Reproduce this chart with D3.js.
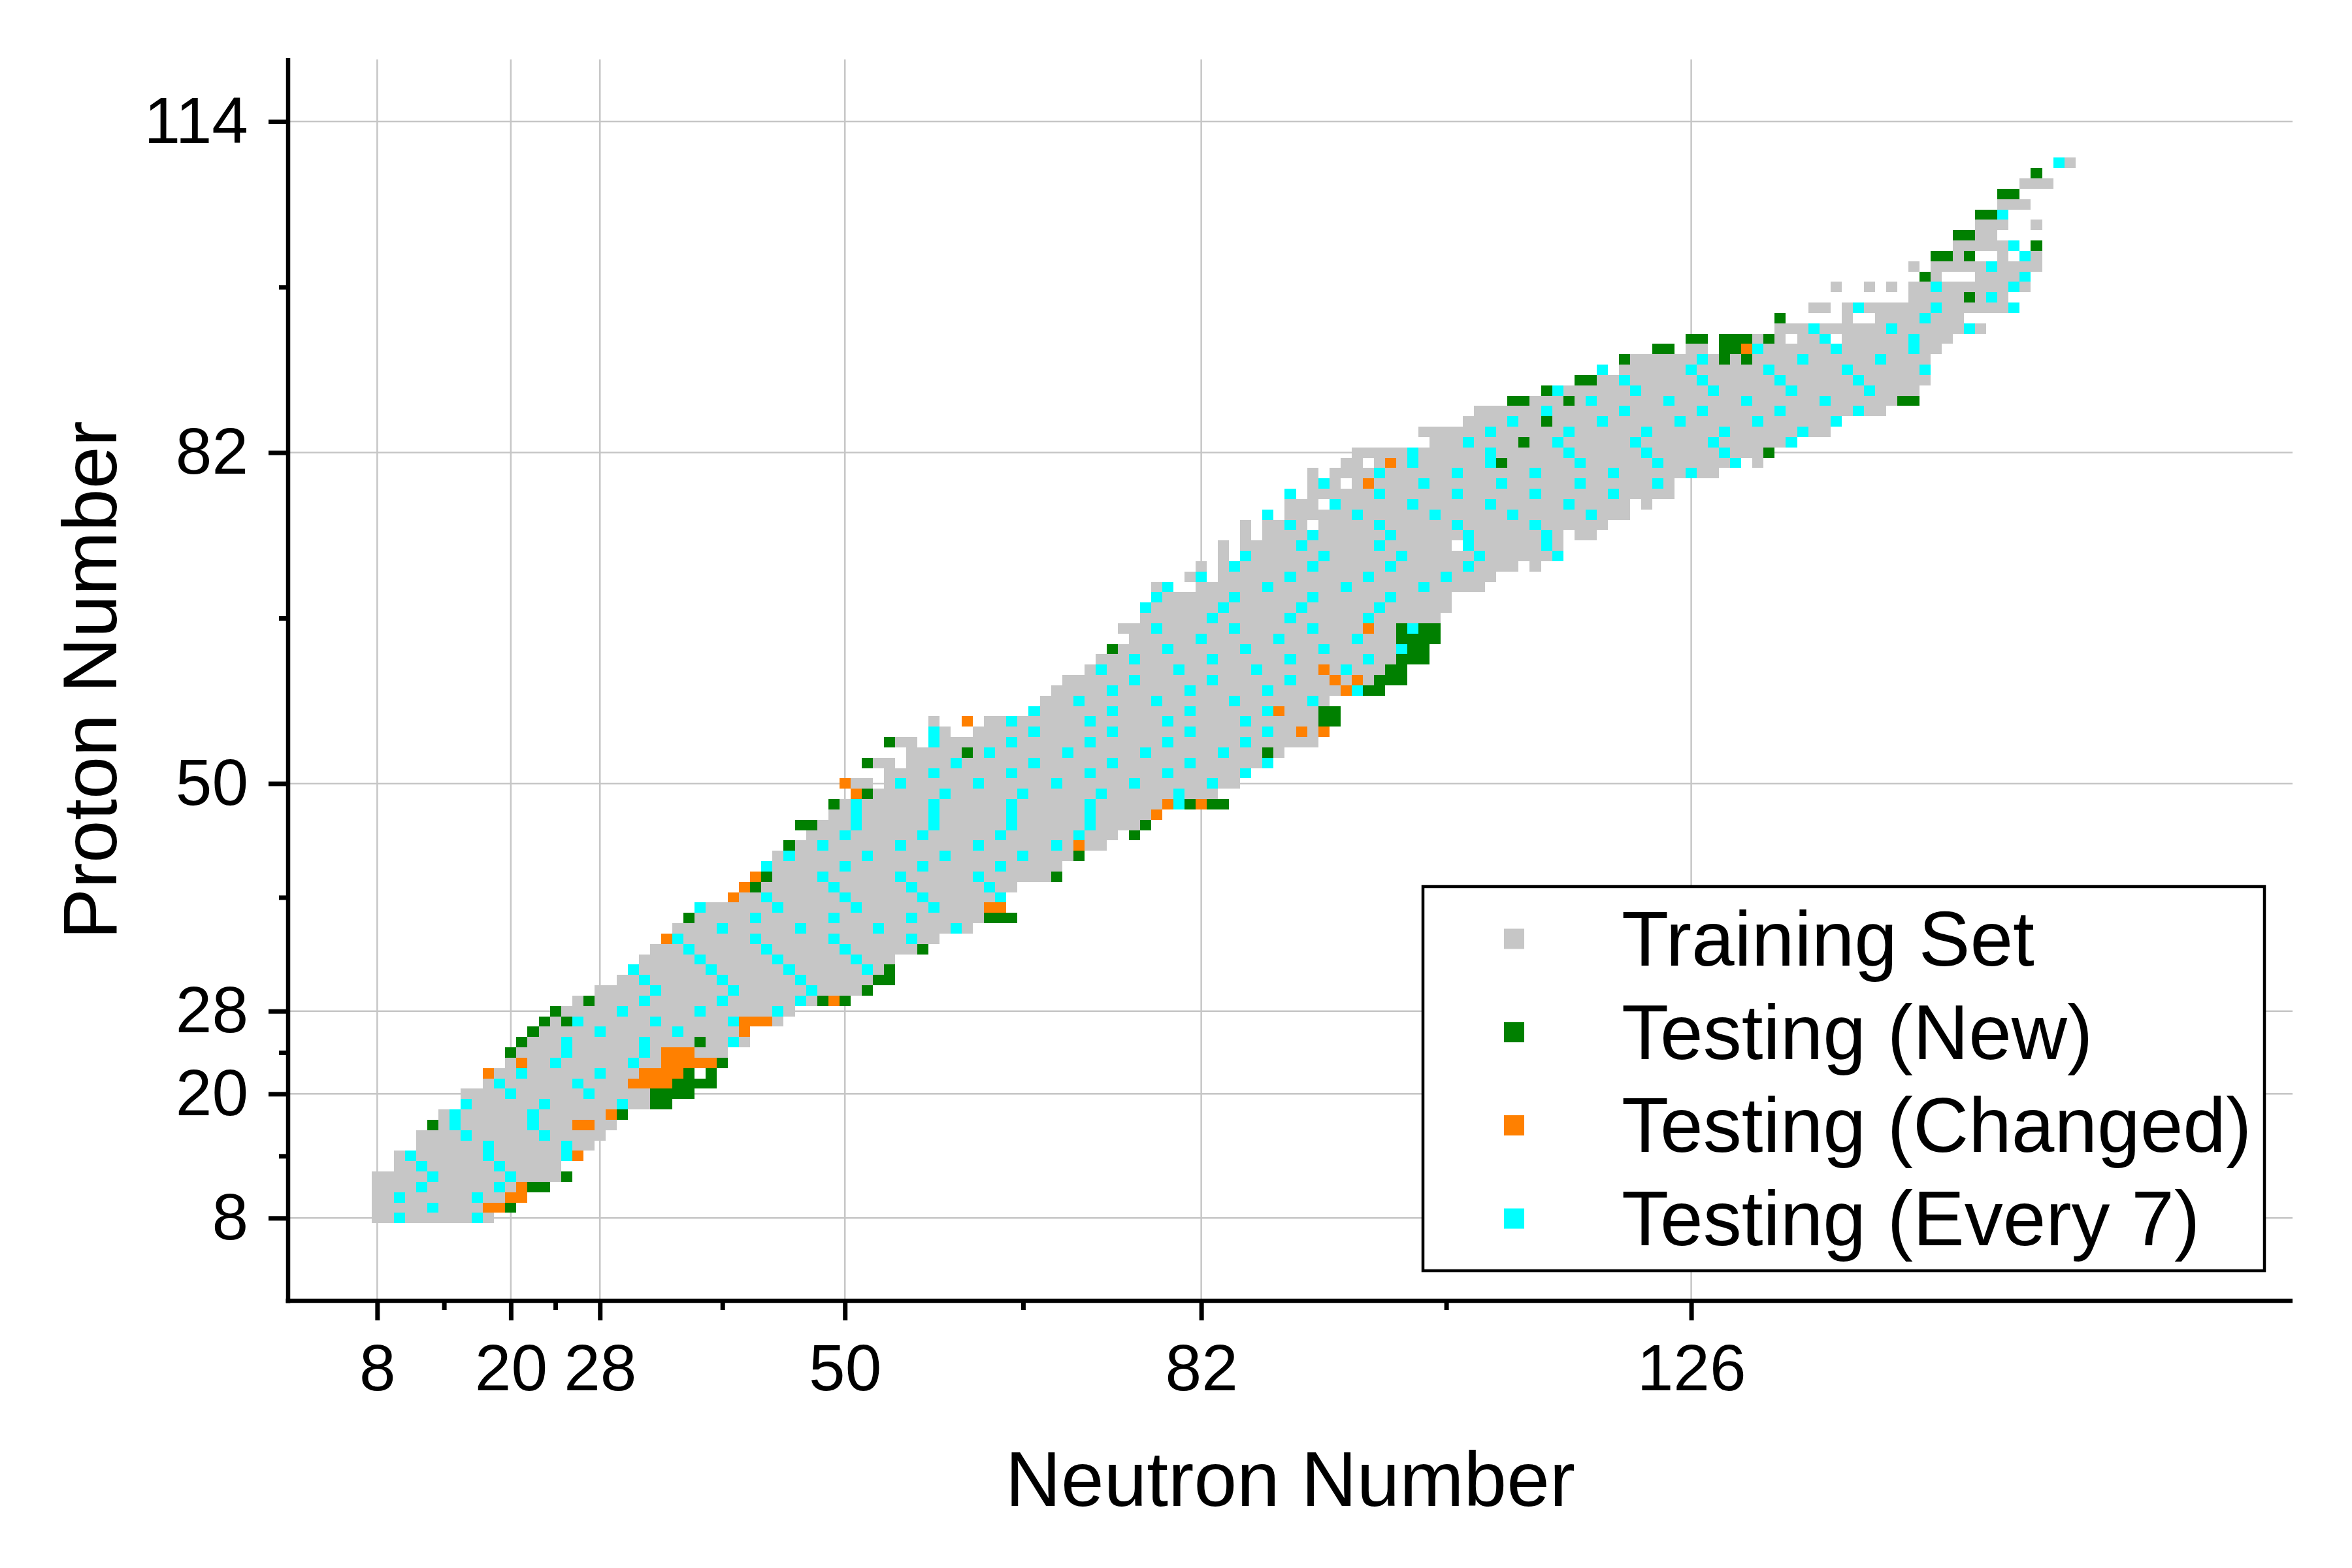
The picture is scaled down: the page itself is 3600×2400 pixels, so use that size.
<!DOCTYPE html>
<html>
<head>
<meta charset="utf-8">
<script src="https://cdn.jsdelivr.net/npm/d3@7"></script>
<style>
  html, body { margin: 0; padding: 0; background: #fff; }
  svg text { font-family: "Liberation Sans", Arial, sans-serif; fill: #000; }
</style>
</head>
<body>
<div id="chart"></div>
<script>
/* eslint-env browser */
/* global d3 */

// nuclide chart, one cell per (N, Z)
// training set: [Z, first N, last N]
const trainingRuns = [
  [8,8,18],[9,8,20],[10,8,21],[11,8,23],[12,8,25],[13,10,24],[14,10,26],[15,12,27],
  [16,12,28],[17,13,29],[18,14,30],[19,16,34],[20,16,36],[21,18,38],[22,18,36],[22,38,38],
  [23,20,39],[24,20,39],[25,21,41],[26,22,41],[27,23,44],[28,24,45],[29,26,50],[30,28,52],
  [31,30,54],[32,31,54],[33,32,54],[34,33,57],[35,34,58],[36,35,61],[37,36,65],[38,37,64],
  [39,40,64],[40,41,65],[41,42,69],[42,43,69],[43,44,71],[44,45,73],[45,47,74],[45,76,76],
  [46,46,77],[47,49,78],[48,49,84],[49,51,83],[50,50,52],[50,54,85],[51,54,86],[52,52,54],
  [52,56,88],[53,56,89],[54,54,56],[54,58,92],[55,58,59],[55,62,93],[56,58,58],[56,61,61],
  [56,63,94],[57,67,94],[58,68,93],[59,69,98],[60,70,100],[61,72,100],[62,73,102],[63,74,102],
  [64,76,103],[65,75,103],[66,77,103],[67,77,104],[68,78,104],[69,78,79],[69,82,107],
  [70,81,82],[70,84,108],[71,82,82],[71,84,110],[71,112,112],[72,84,84],[72,86,114],
  [73,84,84],[73,86,104],[73,106,114],[74,86,86],[74,88,114],[74,116,117],[75,86,86],
  [75,88,91],[75,93,118],[76,88,88],[76,90,120],[77,90,92],[77,94,120],[77,122,122],
  [78,90,90],[78,92,124],[79,92,94],[79,96,124],[80,92,92],[80,94,128],[81,95,96],
  [81,98,130],[81,132,132],[82,96,133],[83,103,135],[84,102,138],[85,106,139],[86,107,143],
  [87,110,146],[88,113,146],[89,116,147],[90,118,118],[90,120,147],[91,120,147],
  [92,123,124],[92,126,127],[92,129,148],[93,126,127],[93,129,134],[93,136,138],[93,140,149],
  [94,134,152],[95,134,134],[95,140,140],[95,143,150],[96,137,138],[96,140,155],[97,146,154],
  [98,139,139],[98,142,142],[98,144,144],[98,146,156],[99,147,148],[99,152,156],[100,146,146],
  [100,148,157],[101,148,151],[101,154,154],[101,156,157],[102,150,155],[102,157,157],
  [103,150,153],[104,152,154],[104,157,157],[105,152,154],[106,154,156],[107,154,155],
  [108,156,158],[109,157,157],[110,159,160]
];

// testing sets: [Z, [N, ...]]
const testNew = [
  [9,[20]],[11,[22,23]],[12,[25]],[17,[13]],[18,[30]],[19,[33,34]],[20,[33,34,35,36]],
  [21,[35,36,37,38]],[22,[36,38]],[23,[39]],[24,[20]],[25,[21,37]],[26,[22]],[27,[23,25]],
  [28,[24]],[29,[27,48,50]],[30,[52]],[31,[53,54]],[32,[54]],[34,[57]],[37,[36,63,64,65]],
  [40,[42]],[41,[43,69]],[43,[71]],[44,[45]],[45,[76]],[46,[46,47,77]],[48,[49,81,83,84]],
  [49,[52]],[52,[52]],[53,[61,88]],[54,[54]],[56,[93,94]],[57,[93,94]],[59,[97,98]],
  [60,[98,99,100]],[61,[99,100]],[62,[100,101,102]],[63,[74,101,102]],[64,[100,101,102,103]],
  [65,[100,102,103]],[81,[109]],[82,[133]],[83,[111]],[85,[113]],[87,[110,111,115,145,146]],
  [88,[113]],[89,[116,117]],[91,[120,129,131]],[92,[123,124,129,130]],
  [93,[126,127,129,130,131,133]],[95,[134]],[97,[151]],[99,[147]],[101,[148,149,151]],
  [102,[157]],[103,[150,151]],[105,[152,153]],[107,[154,155]],[109,[157]]
];

const testChanged = [
  [9,[18,19]],[10,[20,21]],[11,[21]],[14,[26]],[17,[26,27]],[18,[29]],[21,[31,32,33,34]],
  [22,[18,32,33,34,35]],[23,[21,34,35,36,37,38]],[24,[34,35,36]],[26,[41]],[27,[41,42,43]],
  [29,[49]],[35,[34]],[38,[63,64]],[39,[40]],[40,[41]],[41,[42]],[44,[71]],[47,[78]],
  [48,[79,82]],[49,[51]],[50,[50]],[55,[91,93]],[56,[61]],[57,[89]],[59,[95]],[60,[94,96]],
  [61,[93]],[65,[97]],[79,[97]],[81,[99]],[92,[131]]
];

const testEvery7 = [
  [8,[10,17]],[9,[13]],[10,[10,17]],[11,[12,19]],[12,[13,20]],[13,[12,19]],[14,[11,18,25]],
  [15,[18,25]],[16,[16,23]],[17,[15,22]],[18,[15,22]],[19,[16,23,30]],[20,[20,27]],
  [21,[19,26]],[22,[21,28]],[23,[24,31]],[24,[25,32]],[25,[25,32,40]],[26,[28,35]],
  [27,[26,33,40]],[28,[30,37,44]],[29,[32,39,46]],[30,[33,40,47]],[31,[32,39,46]],
  [32,[31,38,45,52]],[33,[37,44,51]],[34,[36,43,50]],[35,[35,42,49,56]],[36,[39,46,53,60]],
  [37,[42,49,56]],[38,[37,44,51,58]],[39,[43,50,57,64]],[40,[49,56,63]],[41,[48,55,62]],
  [42,[43,50,57,64]],[43,[45,52,59,66]],[44,[48,55,62,69]],[45,[50,57,64,71]],
  [46,[51,58,65,72]],[47,[51,58,65,72]],[48,[51,58,65,72,80]],[49,[59,66,73,80]],
  [50,[55,62,69,76,83]],[51,[58,65,72,79,86]],[52,[60,67,74,81,88]],[53,[63,70,77,84]],
  [54,[58,65,72,79,86]],[55,[58,67,74,81,88]],[56,[65,72,79,86]],[57,[67,74,81,88]],
  [58,[71,78,85,92]],[59,[74,81,88,96]],[60,[76,83,90]],[61,[73,80,87,95]],
  [62,[76,83,90,97]],[63,[79,86,93,100]],[64,[82,89,96]],[65,[78,85,92,101]],
  [66,[83,90,97]],[67,[77,84,91,98]],[68,[78,85,92,99]],[69,[79,88,95,102]],
  [70,[82,90,97,104]],[71,[85,92,99,106]],[72,[86,93,100,107,114]],[73,[91,98,106,113]],
  [74,[92,99,106,113]],[75,[90,98,105,112]],[76,[88,96,103,110,117]],[77,[94,101,108,115]],
  [78,[90,98,105,112,119]],[79,[93,102,109,116,123]],[80,[98,105,112,119,126]],
  [81,[101,108,116,123,130]],[82,[101,108,115,122,129]],[83,[106,114,121,128,135]],
  [84,[108,115,122,129,136]],[85,[110,118,125,132,139]],[86,[113,120,127,134,141]],
  [87,[117,124,131,138]],[88,[114,121,128,135,142]],[89,[120,127,134,141]],
  [90,[118,126,133,140,147]],[91,[127,136,143]],[92,[132,139,146]],[93,[138,146]],
  [94,[137,144,151]],[95,[147]],[96,[141,148,155]],[97,[153]],[98,[148,155]],[99,[156]],
  [100,[153]],[101,[156]],[102,[155]],[105,[154]],[110,[159]]
];

const xMajor = [8, 20, 28, 50, 82, 126];
const xMinor = [14, 24, 39, 66, 104];
const yMajor = [8, 20, 28, 50, 82, 114];
const yMinor = [14, 24, 39, 66, 98];

const legendLabels = ["Training Set", "Testing (New)", "Testing (Changed)", "Testing (Every 7)"];
const legendColors = ["#c6c6c6", "#008000", "#ff8000", "#00ffff"];

const width = 3600, height = 2400;

const x = d3.scaleLinear().domain([0, 180]).range([441, 3509]);
const y = d3.scaleLinear().domain([0, 120]).range([1991, 91]);

const svg = d3.select("#chart").append("svg")
    .attr("width", width)
    .attr("height", height)
    .style("background", "#fff");

// grid
const grid = svg.append("g").attr("class", "grid")
    .attr("stroke", "#c6c6c6")
    .attr("stroke-width", 2.5);
grid.selectAll("line.gx").data(xMajor).enter().append("line")
    .attr("class", "gx")
    .attr("x1", d => x(d)).attr("x2", d => x(d))
    .attr("y1", y(0)).attr("y2", y(120));
grid.selectAll("line.gy").data(yMajor).enter().append("line")
    .attr("class", "gy")
    .attr("y1", d => y(d)).attr("y2", d => y(d))
    .attr("x1", x(0)).attr("x2", x(180));

// flatten the sets into cells
function cellsOf(list, cls) {
    let out = [];
    list.forEach(function (row) {
        row[1].forEach(function (n) { out.push({ z: row[0], n: n, cls: cls }); });
    });
    return out;
}
const newCells = cellsOf(testNew, 1);
const changedCells = cellsOf(testChanged, 2);
const every7Cells = cellsOf(testEvery7, 3);
const tested = new Set(newCells.concat(changedCells, every7Cells).map(d => d.z + ":" + d.n));

let trainingCells = [];
trainingRuns.forEach(function (r) {
    for (let n = r[1]; n <= r[2]; n++) {
        if (!tested.has(r[0] + ":" + n)) trainingCells.push({ z: r[0], n: n, cls: 0 });
    }
});

const allCells = trainingCells.concat(newCells, changedCells, every7Cells);
const cw = x(1) - x(0), ch = y(0) - y(1);

svg.append("g").attr("class", "cells")
    .attr("shape-rendering", "crispEdges")
    .selectAll("rect")
    .data(allCells)
    .enter().append("rect")
    .attr("x", d => x(d.n - 0.5))
    .attr("y", d => y(d.z + 0.5))
    .attr("width", cw)
    .attr("height", ch)
    .attr("fill", d => legendColors[d.cls]);

// axes
function styleAxis(g) {
    g.select(".domain").remove();
    g.selectAll(".tick line").attr("stroke", "#000").attr("stroke-width", 7);
    g.selectAll(".tick text")
        .style("font-family", '"Liberation Sans", Arial, sans-serif')
        .style("font-size", "100px")
        .attr("fill", "#000");
}

svg.append("g")
    .attr("transform", "translate(0," + y(0) + ")")
    .call(d3.axisBottom(x).tickValues(xMajor).tickSize(30).tickSizeOuter(0).tickPadding(36))
    .call(styleAxis);
svg.append("g")
    .attr("transform", "translate(0," + y(0) + ")")
    .call(d3.axisBottom(x).tickValues(xMinor).tickSize(14).tickSizeOuter(0).tickFormat(""))
    .call(styleAxis);
svg.append("g")
    .attr("transform", "translate(" + x(0) + ",0)")
    .call(d3.axisLeft(y).tickValues(yMajor).tickSize(30).tickSizeOuter(0).tickPadding(31))
    .call(styleAxis);
svg.append("g")
    .attr("transform", "translate(" + x(0) + ",0)")
    .call(d3.axisLeft(y).tickValues(yMinor).tickSize(14).tickSizeOuter(0).tickFormat(""))
    .call(styleAxis);

// axis lines
svg.append("line")
    .attr("x1", x(0) - 3.5).attr("x2", x(180))
    .attr("y1", y(0)).attr("y2", y(0))
    .attr("stroke", "#000").attr("stroke-width", 6.5);
svg.append("line")
    .attr("x1", x(0)).attr("x2", x(0))
    .attr("y1", y(0) + 3.5).attr("y2", y(120) - 2)
    .attr("stroke", "#000").attr("stroke-width", 6.5);

// titles
svg.append("text")
    .attr("x", (x(0) + x(180)) / 2)
    .attr("y", 2305)
    .attr("text-anchor", "middle")
    .style("font-size", "118px")
    .text("Neutron Number");
svg.append("text")
    .attr("transform", "translate(178," + ((y(0) + y(120)) / 2) + ") rotate(-90)")
    .attr("text-anchor", "middle")
    .style("font-size", "117px")
    .text("Proton Number");

// legend
const legend = svg.append("g").attr("class", "legend");
legend.append("rect")
    .attr("x", 2178).attr("y", 1357)
    .attr("width", 1288).attr("height", 588)
    .attr("fill", "#fff")
    .attr("stroke", "#000")
    .attr("stroke-width", 4.5);
const items = legend.selectAll("g.item")
    .data(legendLabels)
    .enter().append("g")
    .attr("class", "item")
    .attr("transform", (d, i) => "translate(0," + (1437 + i * 142.7) + ")");
items.append("rect")
    .attr("x", 2302).attr("y", -15.5)
    .attr("width", 31).attr("height", 31)
    .attr("fill", (d, i) => legendColors[i]);
items.append("text")
    .attr("x", 2482)
    .attr("y", 41)
    .style("font-size", "118px")
    .text(d => d);
</script>
</body>
</html>
